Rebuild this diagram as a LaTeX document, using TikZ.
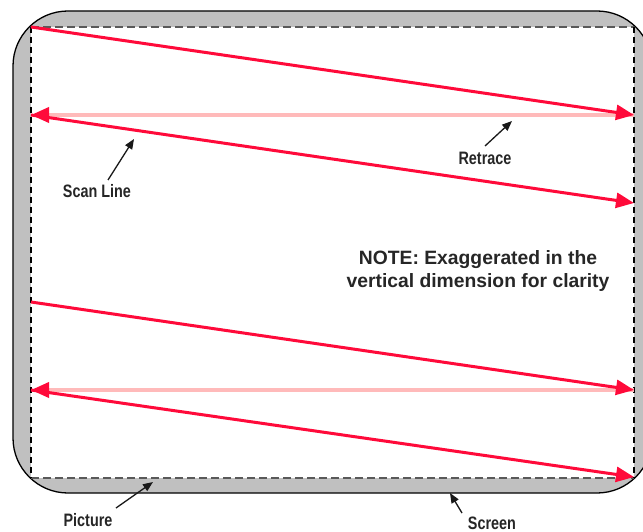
\documentclass[tikz,border=0pt]{standalone}
\usepackage{fontspec}
\setmainfont{Liberation Sans}
\newfontfamily\condfont{Liberation Sans}[FakeStretch=0.8]
\usetikzlibrary{arrows.meta}
\definecolor{scanred}{HTML}{FF0A3A}
\definecolor{retpink}{HTML}{FFBABA}
\definecolor{scrgray}{HTML}{C0C0C0}
\begin{document}
\begin{tikzpicture}[x=1pt,y=-1pt,
  scan/.style={draw=scanred, line width=3pt, -{Triangle[length=18pt,width=15pt,color=scanred]}},
  retr/.style={draw=retpink, line width=3.6pt, -{Triangle[length=18pt,width=15pt,color=scanred]}},
  lbl/.style={font=\condfont\bfseries\fontsize{18}{20}\selectfont, text=black!85, inner sep=0pt},
  note/.style={font=\bfseries\fontsize{19.3}{23}\selectfont, text=black!85, align=center, inner sep=0pt},
  callout/.style={draw=black!90, line width=1.3pt, -{Triangle[length=10pt,width=8pt]}},
  hdash/.style={draw=black!65, line width=1.6pt, dash pattern=on 8pt off 4pt},
  vdash/.style={draw=black, line width=1.2pt, dash pattern=on 6pt off 4pt}]
\useasboundingbox (0,0) rectangle (643,532);
% screen
\begin{scope}
\clip (0,0) rectangle (643,532);
\draw[fill=scrgray, draw=black, line width=1.3pt, rounded corners=55pt] (13,11) rectangle (652,493);
\end{scope}
% picture area
\fill[white] (31,27) rectangle (634,478);
\draw[hdash] (31,27) -- (634,27);
\draw[hdash] (31,478) -- (634,478);
\draw[vdash] (31,27) -- (31,478);
\draw[vdash] (634,27) -- (634,478);
% scan coordinates
\coordinate (a0) at (31,27);
\coordinate (a1) at (634,115);
\coordinate (b0) at (31,115);
\coordinate (b1) at (634,203);
\coordinate (c0) at (31,302);
\coordinate (c1) at (634,390);
\coordinate (d0) at (31,390);
\coordinate (d1) at (634,477);
% retrace lines
\draw[retr] (a1) -- (b0);
\draw[retr] (c1) -- (d0);
% scan lines
\draw[scan] (a0) -- (a1);
\draw[scan] (b0) -- (b1);
\draw[scan] (c0) -- (c1);
\draw[scan] (d0) -- (d1);
% labels
\node[lbl] (scanlbl) at (97,191) {Scan Line};
\coordinate (scantip) at (134,139);
\draw[callout] (108,180) -- (scantip);
\node[lbl] (retlbl) at (485,158) {Retrace};
\coordinate (rettip) at (512,121);
\draw[callout] (485,146) -- (rettip);
\node[lbl] (piclbl) at (88,520) {Picture};
\coordinate (pictip) at (153,482);
\draw[callout] (116,508) -- (pictip);
\node[lbl] (scrlbl) at (492,523) {Screen};
\coordinate (scrtip) at (450,493);
\draw[callout] (462,513) -- (scrtip);
\node[note] (notelbl) at (478,271) {NOTE: Exaggerated in the\\vertical dimension for clarity};
\end{tikzpicture}
\end{document}
